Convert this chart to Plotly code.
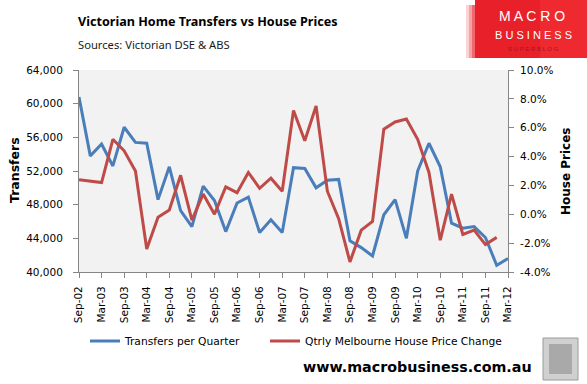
import plotly.graph_objects as go

quarters = ["Sep-02","Dec-02","Mar-03","Jun-03","Sep-03","Dec-03","Mar-04","Jun-04","Sep-04","Dec-04",
            "Mar-05","Jun-05","Sep-05","Dec-05","Mar-06","Jun-06","Sep-06","Dec-06","Mar-07","Jun-07",
            "Sep-07","Dec-07","Mar-08","Jun-08","Sep-08","Dec-08","Mar-09","Jun-09","Sep-09","Dec-09",
            "Mar-10","Jun-10","Sep-10","Dec-10","Mar-11","Jun-11","Sep-11","Dec-11","Mar-12"]

transfers = [60800, 53800, 55200, 52600, 57200, 55400, 55300, 48600, 52500, 47300,
             45400, 50200, 48500, 44800, 48200, 48900, 44700, 46200, 44700, 52400,
             52300, 50000, 50900, 51000, 43700, 42900, 41900, 46800, 48600, 44000,
             52000, 55300, 52500, 45800, 45200, 45400, 44100, 40800, 41600]

price_change = [2.4, 2.3, 2.2, 5.2, 4.4, 3.0, -2.4, -0.2, 0.3, 2.7,
                -0.4, 1.4, 0.0, 1.9, 1.5, 2.9, 1.8, 2.5, 1.6, 7.2,
                5.1, 7.5, 1.6, -0.3, -3.3, -1.1, -0.5, 5.9, 6.4, 6.6,
                5.2, 2.9, -1.8, 1.4, -1.4, -1.1, -2.1, -1.6]

left_ticks = [40000, 44000, 48000, 52000, 56000, 60000, 64000]
right_ticks = [-4, -2, 0, 2, 4, 6, 8, 10]

BLUE = "#4A7EBB"
RED = "#BE4B48"
AXIS = "#868686"
FONT = "DejaVu Sans"

W, H = 587, 384
L, R, T, B = 79, 79, 70, 112
PW, PH = W - L - R, H - T - B


def px(x):
    return (x - L) / PW


def py(y):
    return (H - B - y) / PH


x_idx = list(range(len(quarters)))

fig = go.Figure()
fig.add_trace(go.Scatter(x=x_idx, y=transfers, mode="lines", name="Transfers per Quarter",
                         line=dict(color=BLUE, width=3), legend="legend"))
fig.add_trace(go.Scatter(x=x_idx[:len(price_change)], y=price_change, mode="lines",
                         name="Qtrly Melbourne House Price Change",
                         line=dict(color=RED, width=3), yaxis="y2", legend="legend2"))

tick_idx = x_idx[::2]
axis_common = dict(showgrid=False, zeroline=False, showline=True, linecolor=AXIS, linewidth=1,
                   ticks="outside", ticklen=5, tickcolor=AXIS,
                   tickfont=dict(family=FONT, size=10.5, color="#000000"))
legend_common = dict(orientation="h", xanchor="left", y=py(341), yanchor="middle",
                     font=dict(family=FONT, size=10.7, color="#000000"),
                     bgcolor="rgba(0,0,0,0)", itemwidth=30)
fig.update_layout(
    width=W, height=H,
    margin=dict(l=L, r=R, t=T, b=B, autoexpand=False),
    paper_bgcolor="white", plot_bgcolor="#F2F2F2",
    font=dict(family=FONT, size=10.5, color="#000000"),
    showlegend=True,
    legend=dict(x=px(85), **legend_common),
    legend2=dict(x=px(265), **legend_common),
    xaxis=dict(range=[0, len(quarters) - 1], tickmode="array", tickvals=tick_idx,
               ticktext=[quarters[i] for i in tick_idx], tickangle=-90,
               ticklabelstandoff=4, **axis_common),
    yaxis=dict(range=[40000, 64000], tickvals=left_ticks, tickformat=",",
               ticklabelstandoff=8, **axis_common),
    yaxis2=dict(range=[-4, 10], tickvals=right_ticks,
                ticktext=[f"{v:.1f}%" for v in right_ticks], overlaying="y", side="right",
                ticklabelstandoff=4, **axis_common),
)

# Axis titles
fig.add_annotation(text="<b>Transfers</b>", xref="paper", yref="paper", x=px(14), y=py(170),
                   xanchor="center", yanchor="middle", textangle=-90, showarrow=False,
                   font=dict(family=FONT, size=12.5, color="#000000"))
fig.add_annotation(text="<b>House Prices</b>", xref="paper", yref="paper", x=px(566), y=py(171),
                   xanchor="center", yanchor="middle", textangle=-90, showarrow=False,
                   font=dict(family=FONT, size=12, color="#000000"))

# Title and subtitle
fig.add_annotation(text="<b>Victorian Home Transfers vs House Prices</b>", xref="paper", yref="paper",
                   x=px(76), y=py(21), xanchor="left", yanchor="middle", showarrow=False,
                   font=dict(family="Noto Sans", size=12.6, color="#000000"))
fig.add_annotation(text="Sources: Victorian DSE &amp; ABS", xref="paper", yref="paper",
                   x=px(76), y=py(45), xanchor="left", yanchor="middle", showarrow=False,
                   font=dict(family="Noto Sans", size=11.2, color="#1A1A1A"))

# Logo box (top right) with a soft left fade
fade = [(466, 469, "#FBD3D4"), (469, 472, "#F6A2A5"), (472, 475, "#F0686D")]
for x0, x1, c in fade:
    fig.add_shape(type="rect", xref="paper", yref="paper", x0=px(x0), x1=px(x1),
                  y0=py(58), y1=py(5), fillcolor=c, line=dict(width=0), layer="above")
fig.add_shape(type="rect", xref="paper", yref="paper", x0=px(475), x1=px(587),
              y0=py(58), y1=py(0), fillcolor="#E8202A", line=dict(width=0), layer="above")
fig.add_shape(type="rect", xref="paper", yref="paper", x0=px(540), x1=px(587),
              y0=py(58), y1=py(0), fillcolor="#EE2A30", line=dict(width=0), layer="above")
fig.add_annotation(text="M A C R O", xref="paper", yref="paper", x=px(532), y=py(16),
                   xanchor="center", yanchor="middle", showarrow=False,
                   font=dict(family="Liberation Sans", size=14, color="white"))
fig.add_annotation(text="B U S I N E S S", xref="paper", yref="paper", x=px(533), y=py(35),
                   xanchor="center", yanchor="middle", showarrow=False,
                   font=dict(family="Liberation Sans", size=11, color="white"))
fig.add_annotation(text="S U P E R B L O G", xref="paper", yref="paper", x=px(533), y=py(49),
                   xanchor="center", yanchor="middle", showarrow=False,
                   font=dict(family="Liberation Sans", size=6, color="#A8141B"))

# Website
fig.add_annotation(text="<b>www.macrobusiness.com.au</b>", xref="paper", yref="paper",
                   x=px(417), y=py(367), xanchor="center", yanchor="middle", showarrow=False,
                   font=dict(family="DejaVu Sans", size=14.3, color="#000000"))
# Wolf picture frame
fig.add_shape(type="rect", xref="paper", yref="paper", x0=px(543), x1=px(578),
              y0=py(380), y1=py(338), fillcolor="#D0D0D0",
              line=dict(color="#9A9A9A", width=1))
fig.add_shape(type="rect", xref="paper", yref="paper", x0=px(549), x1=px(572),
              y0=py(374), y1=py(344), fillcolor="#A9A9A9",
              line=dict(width=0))

fig.write_html("out.html", config={"displayModeBar": False},
               post_script="document.body.style.margin='0';")
